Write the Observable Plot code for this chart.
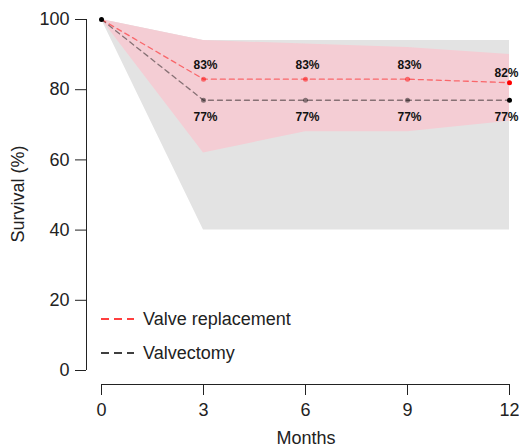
<!DOCTYPE html>
<html>
<head>
<meta charset="utf-8">
<script src="https://cdn.jsdelivr.net/npm/d3@7"></script>
<script src="https://cdn.jsdelivr.net/npm/@observablehq/plot@0.6"></script>
<style>
  html, body { margin: 0; padding: 0; background: #fff; }
  #chart { width: 519px; height: 447px; }
</style>
</head>
<body>
<div id="chart"></div>
<script>
// ---- data ----
const months = [0, 3, 6, 9, 12];
const yTicks = [0, 20, 40, 60, 80, 100];
const replacement = [100, 83, 83, 83, 82];
const replacementLow = [100, 62, 68, 68, 71];
const replacementHigh = [100, 94, 93, 92, 90];
const valvectomy = [100, 77, 77, 77, 77];
const valvectomyLow = [100, 40, 40, 40, 40];
const valvectomyHigh = [100, 94, 94, 94, 94];
const replacementLabels = ["", "83%", "83%", "83%", "82%"];
const valvectomyLabels = ["", "77%", "77%", "77%", "77%"];
const seriesNames = ["Valve replacement", "Valvectomy"];

const rep = months.map((m, i) => ({month: m, value: replacement[i], low: replacementLow[i], high: replacementHigh[i], label: replacementLabels[i]}));
const val = months.map((m, i) => ({month: m, value: valvectomy[i], low: valvectomyLow[i], high: valvectomyHigh[i], label: valvectomyLabels[i]}));
const last = months[months.length - 1];

const plot = Plot.plot({
  width: 519,
  height: 447,
  marginLeft: 86,
  marginRight: 10,
  marginTop: 19,
  marginBottom: 63,
  style: {fontFamily: "'Liberation Sans', Arial, sans-serif", fontSize: "18px", color: "#222", background: "#fff"},
  x: {domain: [0, 12], insetLeft: 15},
  y: {domain: [0, 100], insetBottom: 14},
  marks: [
    Plot.areaY(val, {x: "month", y1: "low", y2: "high", fill: "#e3e3e3", curve: "linear"}),
    Plot.areaY(rep, {x: "month", y1: "low", y2: "high", fill: "#f4cdd4", curve: "linear"}),
    Plot.line(val, {x: "month", y: "value", stroke: "black", strokeOpacity: 0.45, strokeWidth: 1.3, strokeDasharray: "5,4"}),
    Plot.line(rep, {x: "month", y: "value", stroke: "red", strokeOpacity: 0.5, strokeWidth: 1.3, strokeDasharray: "5,4"}),
    Plot.dot(val.filter(d => d.month > 0), {x: "month", y: "value", r: 2.5, fill: "black", fillOpacity: d => d.month === last ? 1 : 0.45}),
    Plot.dot(rep.filter(d => d.month > 0), {x: "month", y: "value", r: 2.5, fill: "red", fillOpacity: d => d.month === last ? 1 : 0.5}),
    Plot.dot(rep.filter(d => d.month === 0), {x: "month", y: "value", r: 2.5, fill: "black"}),
    Plot.text(rep.filter(d => d.label && d.month !== last), {x: "month", y: "value", text: "label", dy: -14, dx: 2, fontSize: 12, fontWeight: "bold", fill: "#111"}),
    Plot.text(rep.filter(d => d.month === last), {x: "month", y: "value", text: "label", dy: -10, dx: -3, fontSize: 12, fontWeight: "bold", fill: "#111"}),
    Plot.text(val.filter(d => d.label && d.month !== last), {x: "month", y: "value", text: "label", dy: 17, dx: 2, fontSize: 12, fontWeight: "bold", fill: "#111"}),
    Plot.text(val.filter(d => d.month === last), {x: "month", y: "value", text: "label", dy: 17, dx: -3, fontSize: 12, fontWeight: "bold", fill: "#111"}),
    Plot.ruleX([months[0]], {y1: d3.min(yTicks), y2: d3.max(yTicks), dx: -15, stroke: "#222"}),
    Plot.ruleY([d3.min(yTicks)], {x1: d3.min(months), x2: d3.max(months), dy: 14, stroke: "#222"}),
    Plot.axisY({ticks: yTicks, tickSize: 11, tickPadding: 6, label: null, fontSize: 18}),
    Plot.axisX({ticks: months, tickSize: 11, tickPadding: 8, label: null, fontSize: 18}),
    Plot.text(["Survival (%)"], {text: d => d, frameAnchor: "left", rotate: -90, dx: -68, dy: -8, textAnchor: "middle", lineAnchor: "middle", fontSize: 18}),
    Plot.text(["Months"], {text: d => d, frameAnchor: "bottom", dx: 8, dy: 54, textAnchor: "middle", lineAnchor: "middle", fontSize: 18})
  ]
});

document.getElementById("chart").appendChild(plot);

// legend inside plot area
const svg = d3.select(plot);
const legendColors = ["red", "black"];
const lg = svg.append("g")
  .attr("font-family", "'Liberation Sans', Arial, sans-serif")
  .attr("font-size", 18)
  .attr("text-anchor", "start");
seriesNames.forEach((name, i) => {
  const y = 319 + i * 34;
  lg.append("line").attr("x1", 101).attr("x2", 134).attr("y1", y).attr("y2", y)
    .attr("stroke", legendColors[i]).attr("stroke-width", 1.5).attr("stroke-dasharray", "8,5");
  lg.append("text").attr("x", 143).attr("y", y).attr("dy", "0.35em")
    .attr("text-anchor", "start").attr("fill", "#222").text(name);
});
</script>
</body>
</html>
